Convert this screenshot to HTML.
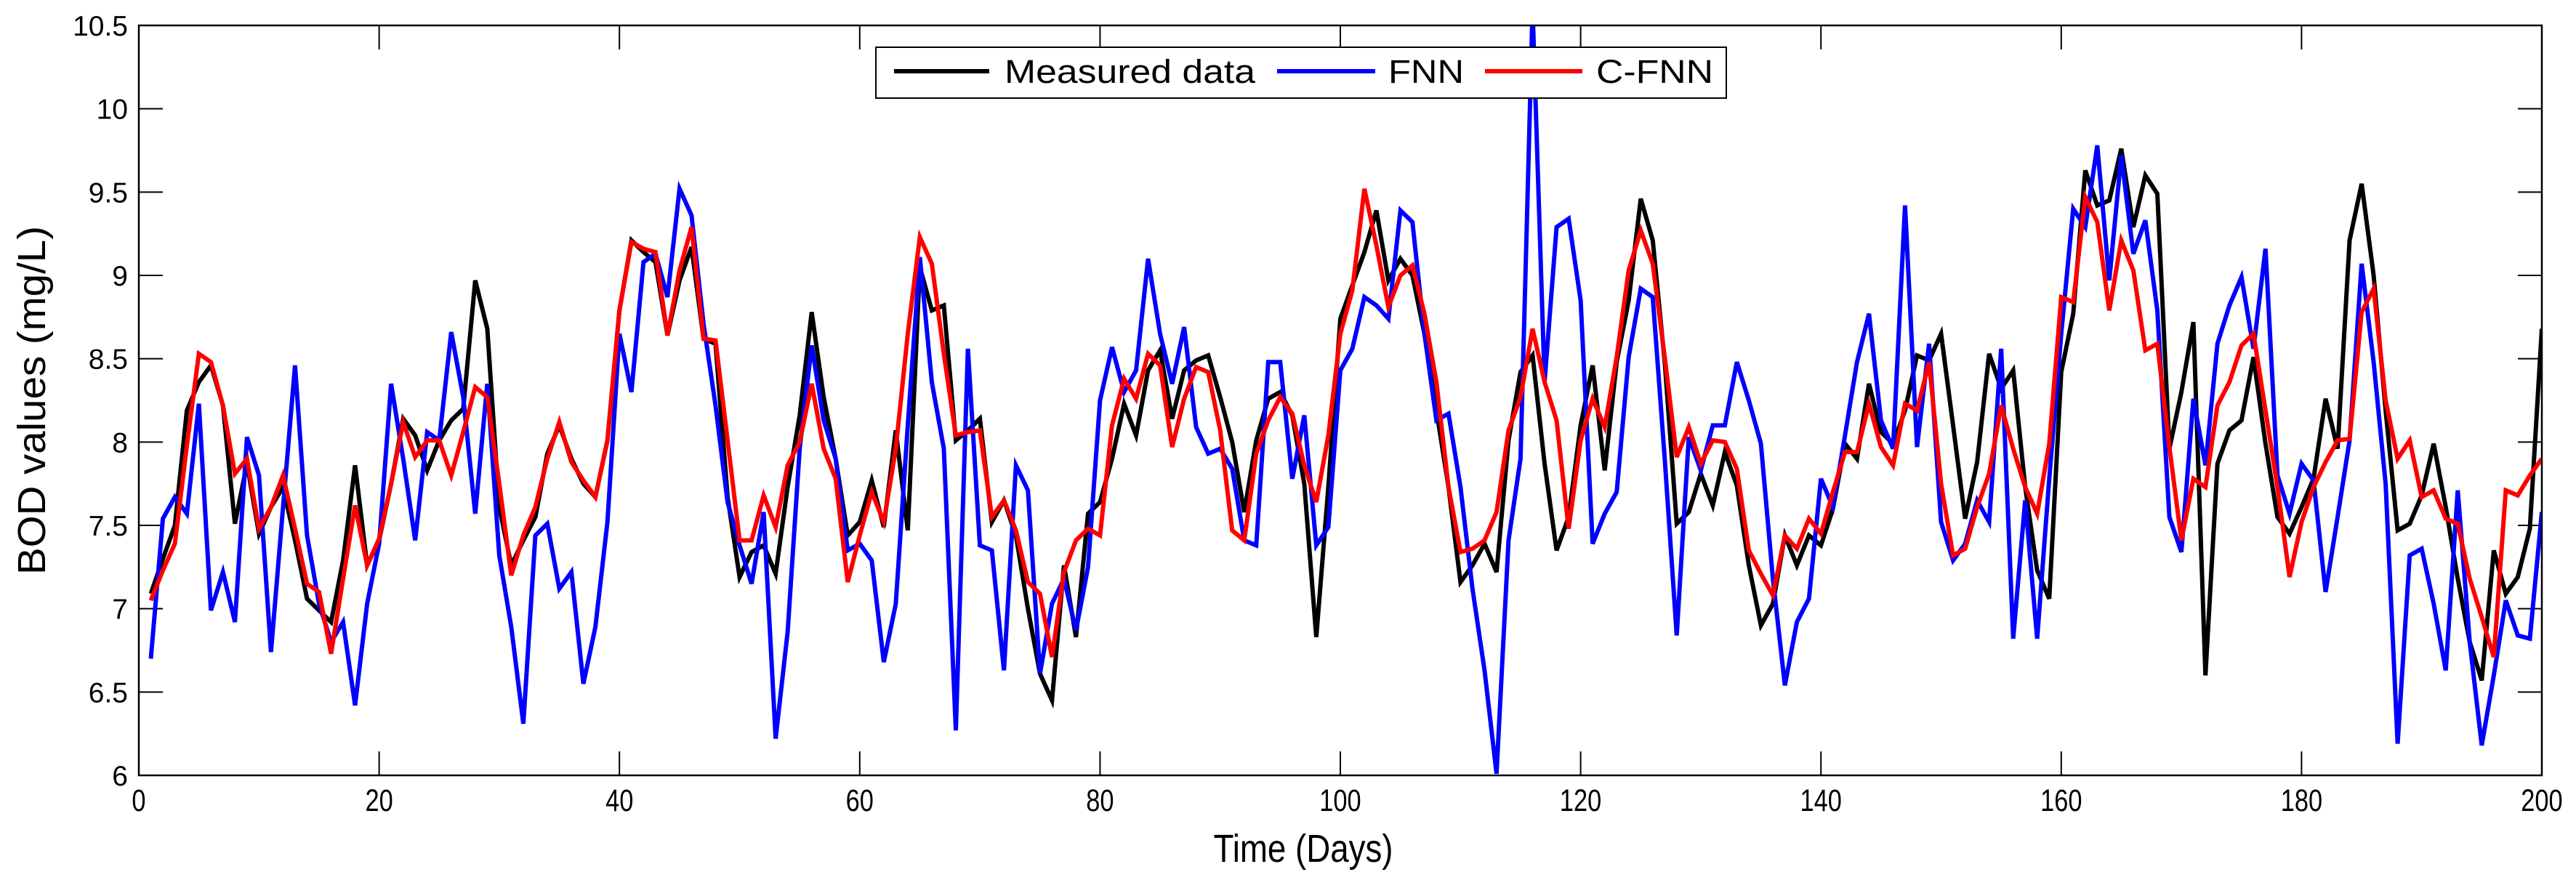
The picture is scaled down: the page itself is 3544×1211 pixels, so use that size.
<!DOCTYPE html>
<html><head><meta charset="utf-8"><style>
html,body{margin:0;padding:0;background:#fff;}
svg{display:block;}
text{font-family:"Liberation Sans",Arial,sans-serif;fill:#000;}
</style></head><body>
<svg id="chart" width="3544" height="1211" viewBox="0 0 3544 1211" xmlns="http://www.w3.org/2000/svg">
<defs><clipPath id="plotclip"><rect x="191" y="35" width="3306" height="1032"/></clipPath></defs>
<rect x="0" y="0" width="3544" height="1211" fill="#fff"/>
<g id="grid-ticks"></g>
<g id="series" clip-path="url(#plotclip)"></g>
<rect x="191" y="35" width="3306" height="1032" fill="none" stroke="#000" stroke-width="2.5"/>
<g id="labels"></g>
<text x="1793" y="1186" font-size="54" text-anchor="middle" textLength="247" lengthAdjust="spacingAndGlyphs">Time (Days)</text>
<text transform="translate(62,551) rotate(-90)" x="0" y="0" font-size="54" text-anchor="middle" textLength="480" lengthAdjust="spacingAndGlyphs">BOD values (mg/L)</text>
<g>
<rect x="1205" y="65" width="1170" height="70" fill="#fff" stroke="#000" stroke-width="2"/>
<line x1="1230" y1="98" x2="1361" y2="98" stroke="#000" stroke-width="6"/>
<text x="1382" y="114" font-size="45" textLength="345" lengthAdjust="spacingAndGlyphs">Measured data</text>
<line x1="1757" y1="98" x2="1892" y2="98" stroke="#0000ff" stroke-width="6"/>
<text x="1910" y="114" font-size="45" textLength="104" lengthAdjust="spacingAndGlyphs">FNN</text>
<line x1="2043" y1="98" x2="2177" y2="98" stroke="#ff0000" stroke-width="6"/>
<text x="2196" y="114" font-size="45" textLength="161" lengthAdjust="spacingAndGlyphs">C-FNN</text>
</g>
</svg>
<script>
const xTicks = [0,20,40,60,80,100,120,140,160,180,200];
const yTicks = [6,6.5,7,7.5,8,8.5,9,9.5,10,10.5];
const yTickLabels = ["6","6.5","7","7.5","8","8.5","9","9.5","10","10.5"];
const measured = [7.09,7.3,7.5,8.19,8.36,8.46,8.22,7.51,7.87,7.45,7.61,7.73,7.41,7.06,6.99,6.92,7.29,7.86,7.26,7.41,7.75,8.14,8.04,7.83,8.01,8.13,8.2,8.97,8.68,7.61,7.26,7.41,7.55,7.93,8.1,7.9,7.75,7.67,8.01,8.79,9.21,9.14,9.08,8.64,8.97,9.17,8.62,8.59,7.67,7.19,
7.34,7.38,7.21,7.73,8.16,8.78,8.27,7.9,7.44,7.52,7.77,7.49,8.07,7.47,9.05,8.79,8.82,8.01,8.07,8.14,7.52,7.65,7.44,7.0,6.61,6.45,7.26,6.83,7.57,7.64,7.9,8.23,8.04,8.43,8.55,8.14,8.43,8.49,8.52,8.27,8.0,7.58,8.01,8.26,8.3,8.16,7.75,6.83,7.73,8.74,
8.94,9.14,9.39,8.97,9.1,9.0,8.65,8.19,7.73,7.16,7.26,7.39,7.22,8.01,8.42,8.52,7.87,7.35,7.55,8.1,8.46,7.83,8.48,8.85,9.46,9.21,8.48,7.51,7.58,7.81,7.62,7.94,7.74,7.26,6.9,7.03,7.44,7.26,7.44,7.38,7.6,7.99,7.9,8.35,8.06,7.99,8.19,8.52,8.49,8.65,
8.1,7.54,7.88,8.53,8.32,8.43,7.73,7.23,7.06,8.42,8.77,9.63,9.42,9.45,9.76,9.29,9.6,9.49,7.96,8.3,8.72,6.6,7.87,8.07,8.13,8.51,7.99,7.55,7.45,7.61,7.78,8.26,7.96,9.21,9.55,9.0,8.19,7.47,7.51,7.68,7.99,7.61,7.18,6.8,6.57,7.35,7.09,7.19,7.48,8.68];
const fnn = [6.7,7.54,7.67,7.57,8.23,6.99,7.22,6.92,8.03,7.8,6.74,7.61,8.46,7.44,7.03,6.8,6.92,6.42,7.03,7.39,8.35,7.9,7.41,8.06,8.01,8.66,8.27,7.57,8.35,7.32,6.89,6.31,7.44,7.51,7.12,7.22,6.55,6.89,7.52,8.65,8.3,9.08,9.13,8.87,9.52,9.36,8.71,8.22,7.64,7.38,
7.15,7.58,6.22,6.86,7.96,8.58,8.13,7.9,7.35,7.39,7.29,6.68,7.03,8.1,9.11,8.36,7.96,6.27,8.56,7.38,7.35,6.63,7.86,7.71,6.61,7.03,7.18,6.87,7.25,8.25,8.57,8.3,8.43,9.1,8.65,8.35,8.69,8.09,7.93,7.96,7.84,7.41,7.38,8.48,8.48,7.78,8.16,7.38,7.49,8.43,
8.56,8.87,8.82,8.74,9.39,9.32,8.65,8.13,8.17,7.73,7.12,6.63,6.01,7.41,7.9,10.6,8.36,9.29,9.34,8.85,7.39,7.57,7.7,8.51,8.92,8.87,7.9,6.84,8.03,7.83,8.1,8.1,8.48,8.25,7.99,7.18,6.54,6.92,7.06,7.78,7.61,8.04,8.48,8.77,8.13,7.96,9.42,7.97,8.59,7.52,
7.29,7.39,7.65,7.52,8.56,6.82,7.65,6.82,7.78,8.65,9.4,9.29,9.78,8.97,9.72,9.13,9.33,8.79,7.55,7.34,8.26,7.86,8.59,8.82,8.99,8.56,9.16,7.8,7.57,7.87,7.77,7.1,7.55,8.01,9.07,8.48,7.75,6.19,7.32,7.36,7.03,6.63,7.71,6.8,6.18,6.6,7.05,6.84,6.82,7.58];
const cfnn = [7.05,7.23,7.39,7.98,8.53,8.48,8.22,7.81,7.9,7.48,7.61,7.8,7.48,7.15,7.1,6.73,7.18,7.62,7.26,7.42,7.75,8.12,7.91,8.01,8.01,7.8,8.06,8.33,8.27,7.75,7.2,7.44,7.61,7.9,8.12,7.88,7.77,7.67,8.01,8.79,9.2,9.16,9.14,8.64,9.03,9.29,8.62,8.61,8.01,7.41,
7.41,7.68,7.49,7.86,8.0,8.35,7.96,7.78,7.16,7.44,7.7,7.52,7.96,8.65,9.23,9.07,8.53,8.04,8.06,8.07,7.55,7.65,7.47,7.16,7.09,6.71,7.22,7.41,7.48,7.44,8.1,8.38,8.26,8.53,8.46,7.97,8.26,8.45,8.42,8.07,7.47,7.41,7.93,8.13,8.27,8.17,7.86,7.64,8.04,8.65,
8.91,9.52,9.18,8.81,9.0,9.06,8.77,8.36,7.73,7.34,7.36,7.41,7.58,8.07,8.27,8.68,8.36,8.13,7.48,8.01,8.26,8.09,8.51,9.03,9.27,9.07,8.51,7.91,8.09,7.87,8.01,8.0,7.84,7.35,7.21,7.08,7.44,7.36,7.54,7.45,7.7,7.94,7.94,8.23,7.97,7.86,8.23,8.19,8.48,7.75,
7.32,7.36,7.61,7.81,8.22,7.96,7.73,7.57,7.99,8.87,8.84,9.47,9.32,8.79,9.21,9.03,8.55,8.59,7.97,7.41,7.78,7.73,8.22,8.36,8.58,8.65,8.19,7.73,7.19,7.52,7.73,7.88,8.01,8.02,8.78,8.92,8.25,7.9,8.01,7.67,7.71,7.54,7.51,7.18,6.95,6.71,7.71,7.68,7.8,7.9];

const NS = "http://www.w3.org/2000/svg";
const L = 191, R = 3497, T = 35, B = 1067, XMIN = 0, XMAX = 200, YMIN = 6, YMAX = 10.5;
function xs(d){ return L + (d - XMIN) / (XMAX - XMIN) * (R - L); }
function ys(v){ return B - (v - YMIN) / (YMAX - YMIN) * (B - T); }

const tickG = document.getElementById('grid-ticks');
const labG = document.getElementById('labels');
xTicks.forEach(function(t){
  const x = xs(t);
  const a = document.createElementNS(NS, 'line');
  a.setAttribute('x1', x); a.setAttribute('x2', x); a.setAttribute('y1', B); a.setAttribute('y2', B - 33);
  a.setAttribute('stroke', '#000'); a.setAttribute('stroke-width', '2');
  
  
  tickG.appendChild(a);
  const b = document.createElementNS(NS, 'line');
  b.setAttribute('x1', x); b.setAttribute('x2', x); b.setAttribute('y1', T); b.setAttribute('y2', T + 33);
  b.setAttribute('stroke', '#000'); b.setAttribute('stroke-width', '2');
  
  
  tickG.appendChild(b);
  const tx = document.createElementNS(NS, 'text');
  tx.setAttribute('x', x); tx.setAttribute('y', 1116);
  tx.setAttribute('font-size', '43'); tx.setAttribute('text-anchor', 'middle');
  tx.setAttribute('transform', 'translate(' + x + ',0) scale(0.8,1) translate(' + (-x) + ',0)');
  tx.textContent = String(t);
  
  
  labG.appendChild(tx);
});
yTicks.forEach(function(t, i){
  const y = ys(t);
  const a = document.createElementNS(NS, 'line');
  a.setAttribute('x1', L); a.setAttribute('x2', L + 33); a.setAttribute('y1', y); a.setAttribute('y2', y);
  a.setAttribute('stroke', '#000'); a.setAttribute('stroke-width', '2');
  
  
  tickG.appendChild(a);
  const b = document.createElementNS(NS, 'line');
  b.setAttribute('x1', R); b.setAttribute('x2', R - 33); b.setAttribute('y1', y); b.setAttribute('y2', y);
  b.setAttribute('stroke', '#000'); b.setAttribute('stroke-width', '2');
  
  
  tickG.appendChild(b);
  const tx = document.createElementNS(NS, 'text');
  tx.setAttribute('x', 176); tx.setAttribute('y', y + 14);
  tx.setAttribute('font-size', '39'); tx.setAttribute('text-anchor', 'end');
  tx.textContent = yTickLabels[i];
  
  
  labG.appendChild(tx);
});

const seriesG = document.getElementById('series');
function drawSeries(vals, color, name){
  const pts = vals.map(function(v, i){ return xs(i + 1).toFixed(1) + ',' + ys(v).toFixed(1); }).join(' ');
  const pl = document.createElementNS(NS, 'polyline');
  pl.setAttribute('points', pts);
  pl.setAttribute('fill', 'none');
  pl.setAttribute('stroke', color);
  pl.setAttribute('stroke-width', '6');
  pl.setAttribute('stroke-linejoin', 'miter');
  
  
  seriesG.appendChild(pl);
}
drawSeries(measured, '#000000', 'measured-data-line');
drawSeries(fnn, '#0000ff', 'fnn-line');
drawSeries(cfnn, '#ff0000', 'c-fnn-line');
</script>
</body></html>
